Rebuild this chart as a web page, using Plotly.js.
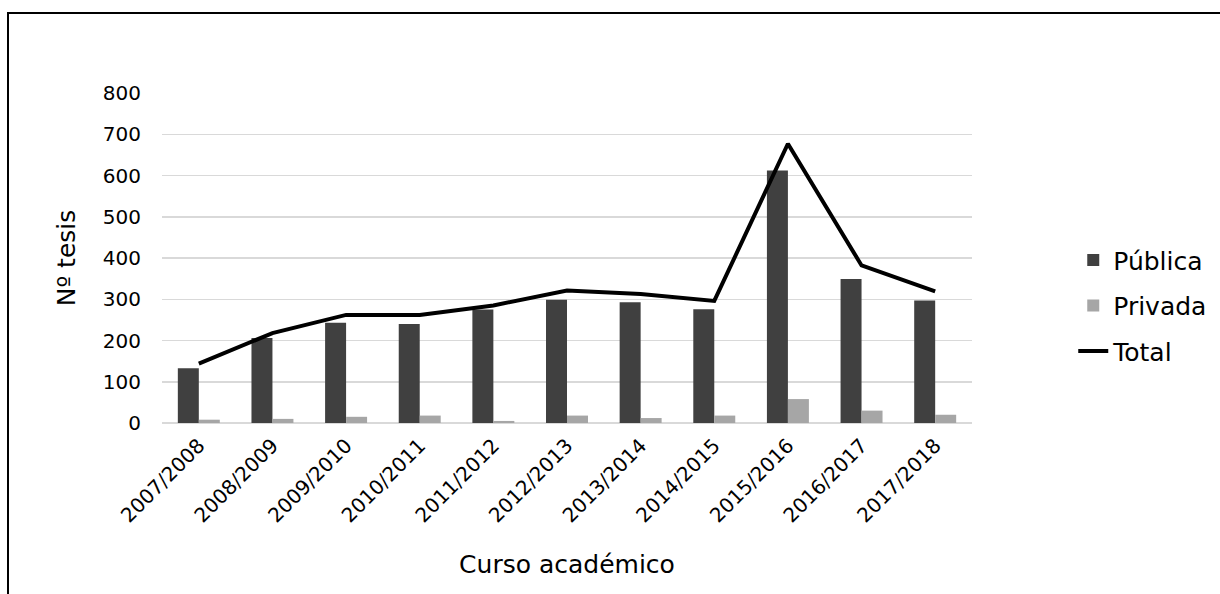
<!DOCTYPE html>
<html>
<head>
<meta charset="utf-8">
<script src="https://cdn.plot.ly/plotly-3.0.1.min.js"></script>
<style>
  html, body { margin: 0; padding: 0; background: #fff; }
  #wrap { position: relative; width: 1220px; height: 594px; overflow: hidden; }
  #chart { width: 1220px; height: 594px; }
  #frame { position: absolute; left: 7px; top: 12px; width: 1400px; height: 800px;
           border-left: 2px solid #000; border-top: 2px solid #000; pointer-events: none; }
</style>
</head>
<body>
<div id="wrap">
  <div id="chart"></div>
  <div id="frame"></div>
</div>
<script>
const cursos = ["2007/2008","2008/2009","2009/2010","2010/2011","2011/2012","2012/2013",
                "2013/2014","2014/2015","2015/2016","2016/2017","2017/2018"];
const publica = [133, 206, 243, 240, 275, 299, 293, 276, 612, 349, 297];
const privada = [8, 10, 15, 18, 5, 18, 12, 18, 58, 30, 20];
const total   = [144, 218, 262, 262, 285, 321, 313, 296, 677, 382, 319];
const yTicks  = [0, 100, 200, 300, 400, 500, 600, 700, 800];

const FONT = "DejaVu Sans, Verdana, sans-serif";

const traces = [
  { type: "bar", name: "Pública", x: cursos, y: publica,
    marker: { color: "#404040" }, legendgroup: "a" },
  { type: "bar", name: "Privada", x: cursos, y: privada,
    marker: { color: "#a6a6a6" }, legendgroup: "b" },
  { type: "scatter", mode: "lines", name: "Total", x: cursos, y: total,
    line: { color: "#000000", width: 4 }, legendgroup: "c" }
];

const layout = {
  width: 1220, height: 594,
  margin: { l: 162, r: 248, t: 93, b: 171, autoexpand: false },
  paper_bgcolor: "#ffffff", plot_bgcolor: "#ffffff",
  font: { family: FONT, color: "#000000", size: 20 },
  barmode: "group", bargap: 0.43, bargroupgap: 0,
  showlegend: true,
  legend: {
    x: 1.125, xanchor: "left", y: 0.355, yanchor: "middle",
    font: { family: FONT, size: 25, color: "#000000" },
    traceorder: "grouped", tracegroupgap: 10,
    bgcolor: "rgba(0,0,0,0)"
  },
  xaxis: {
    type: "category",
    tickangle: -45,
    tickfont: { family: FONT, size: 20, color: "#000000" },
    showgrid: false, showline: false, zeroline: false,
    ticks: "", ticklabelstandoff: 6,
    title: { text: "Curso académico", font: { family: FONT, size: 25, color: "#000000" }, standoff: 29 },
    automargin: false
  },
  yaxis: {
    range: [0, 800],
    tickvals: yTicks,
    ticktext: yTicks.map(String),
    tickfont: { family: FONT, size: 20, color: "#000000" },
    showgrid: true, gridcolor: "#d9d9d9", gridwidth: 1.5,
    zeroline: true, zerolinecolor: "#d9d9d9", zerolinewidth: 1.5,
    showline: false, ticks: "", ticklabelstandoff: 20,
    title: { text: "Nº tesis", font: { family: FONT, size: 25, color: "#000000" }, standoff: 20 },
    automargin: false
  }
};

Plotly.newPlot("chart", traces, layout, { staticPlot: true, displayModeBar: false });
</script>
</body>
</html>
